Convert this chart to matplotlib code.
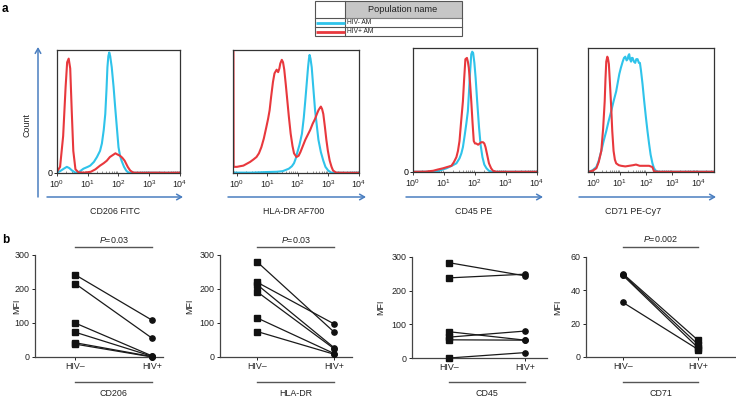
import numpy as np
import matplotlib
matplotlib.use('Agg')
import matplotlib.pyplot as plt
from matplotlib.patches import Rectangle
from matplotlib.ticker import LogLocator, NullFormatter

plt.rcParams['font.family'] = ['Liberation Sans', 'DejaVu Sans']
plt.rcParams['mathtext.fontset'] = 'custom'
plt.rcParams['mathtext.rm'] = 'Liberation Sans'
plt.rcParams['mathtext.it'] = 'Liberation Sans:italic'

# ---------------- data: flow histograms (log10 intensity, relative count) ----------------
cd206_neg_lx = [0.0, 0.1, 0.22, 0.32, 0.4, 0.49, 0.6, 0.7, 0.86, 1.0, 1.08, 1.2, 1.3, 1.4, 1.46, 1.52, 1.57,
                1.61, 1.64, 1.67, 1.7, 1.73, 1.78, 1.84, 1.89, 1.95, 2.0, 2.05, 2.1, 2.18, 2.25, 2.32, 2.6,
                3.0, 3.5, 4.0]
cd206_neg_y = [0.5, 1.5, 3.5, 5, 4, 2, 0.3, 0.5, 3.5, 5, 6, 9, 13, 18, 24, 35, 48,
               68, 86, 95, 98, 95, 86, 70, 54, 36, 21, 14, 10, 5, 2, 0.3, 0.2,
               0.3, 0.2, 0.2]
cd206_pos_lx = [0.0, 0.1, 0.2, 0.28, 0.33, 0.38, 0.43, 0.48, 0.53, 0.6, 0.7, 0.9, 1.1, 1.25, 1.4, 1.52,
                1.62, 1.72, 1.84, 1.9, 1.97, 2.05, 2.12, 2.2, 2.3, 2.38, 2.48, 2.8, 3.2, 3.6, 4.0]
cd206_pos_y = [1, 5, 30, 70, 90, 93, 85, 50, 18, 3, 0.5, 0.3, 1, 3, 6, 8,
               10, 13, 15, 16, 15, 14, 12.5, 10, 5, 2, 0.3, 0.2, 0.3, 0.2, 0.3]

hladr_neg_lx = [-0.12, 0.5, 1.0, 1.3, 1.5, 1.6, 1.7, 1.8, 1.87, 1.93, 1.97, 2.05, 2.13, 2.19, 2.24, 2.29,
                2.33, 2.36, 2.38, 2.41, 2.45, 2.5, 2.56, 2.62, 2.67, 2.75, 2.83, 2.9, 2.99, 3.09, 3.5, 4.0]
hladr_neg_y = [0.3, 0.3, 0.8, 1, 1.5, 2.5, 3.5, 5.5, 8, 12, 16, 23, 32, 45, 59, 74,
               86, 93, 96, 93, 86, 70, 51, 38, 27, 17, 10, 5, 2, 0.3, 0.2, 0.3]
hladr_pos_lx = [-0.115, -0.11, 0.0, 0.1, 0.21, 0.32, 0.43, 0.54, 0.64, 0.72, 0.8, 0.88, 0.96, 1.02, 1.07,
                1.12, 1.18, 1.23, 1.3, 1.35, 1.39, 1.42, 1.47, 1.51, 1.55, 1.6, 1.65, 1.7, 1.76, 1.82,
                1.87, 1.95, 2.02, 2.08, 2.16, 2.24, 2.32, 2.4, 2.48, 2.56, 2.62, 2.67, 2.72, 2.75, 2.79,
                2.83, 2.88, 2.93, 2.98, 3.04, 3.1, 3.15, 3.25, 3.6, 4.0]
hladr_pos_y = [99, 5, 5, 5.5, 6, 7.5, 9, 11, 13, 16, 21, 28, 37, 44, 51,
               62, 74, 81, 84, 82, 85, 89, 92, 90, 84, 72, 59, 46, 32, 22,
               16, 13, 14, 17, 22, 27, 31, 35, 40, 44, 48, 51, 53, 54, 52,
               48, 38, 27, 18, 10, 5, 2, 0.3, 0.2, 0.2]

cd45_neg_lx = [0.0, 0.5, 0.75, 0.9, 1.08, 1.25, 1.4, 1.5, 1.56, 1.61, 1.67, 1.72, 1.77, 1.8, 1.84, 1.88,
               1.91, 1.94, 1.98, 2.02, 2.07, 2.13, 2.18, 2.24, 2.3, 2.37, 2.45, 2.53, 3.2, 4.0]
cd45_neg_y = [0.2, 0.2, 0.3, 1.5, 3, 5, 7, 11, 15, 20, 30, 39, 49, 62, 80, 95,
              97, 96, 88, 76, 57, 36, 22, 12, 6, 3, 1, 0.2, 0.2, 0.2]
cd45_pos_lx = [0.0, 0.4, 0.65, 0.8, 0.97, 1.1, 1.24, 1.32, 1.4, 1.45, 1.5, 1.55, 1.61, 1.65, 1.69, 1.74,
               1.77, 1.8, 1.84, 1.88, 1.92, 1.96, 2.0, 2.04, 2.1, 2.15, 2.2, 2.26, 2.3, 2.34, 2.4, 2.45,
               2.52, 2.58, 2.69, 3.2, 4.0]
cd45_pos_y = [0.2, 0.3, 1, 2, 3, 4, 5, 8, 12, 17, 25, 40, 57, 75, 91, 92,
              89, 84, 72, 57, 40, 25, 23, 23, 22, 23, 24, 24, 23, 20, 13, 7,
              3, 1, 0.2, 0.2, 0.2]

cd71_neg_lx = [-0.2, -0.05, 0.09, 0.18, 0.28, 0.37, 0.47, 0.56, 0.66, 0.75, 0.85, 0.91, 0.97, 1.03, 1.1,
               1.15, 1.2, 1.25, 1.29, 1.32, 1.35, 1.38, 1.42, 1.45, 1.48, 1.53, 1.58, 1.62, 1.67, 1.72,
               1.76, 1.8, 1.86, 1.92, 1.99, 2.05, 2.11, 2.17, 2.24, 2.3, 2.37, 2.49, 3.5, 4.6]
cd71_neg_y = [0.2, 1.5, 4, 9, 17, 25, 33, 41, 49, 57, 65, 72, 79, 84, 89,
              92, 93, 90, 91, 94, 95, 91, 89, 92, 92, 89, 88, 91, 91, 88,
              88, 82, 71, 58, 44, 33, 23, 14, 7, 3, 1, 0.2, 0.2, 0.2]
cd71_pos_lx = [-0.2, -0.05, 0.09, 0.18, 0.28, 0.35, 0.41, 0.44, 0.47, 0.51, 0.54, 0.57, 0.61, 0.66, 0.7,
               0.75, 0.8, 0.85, 0.95, 1.04, 1.2, 1.35, 1.5, 1.61, 1.75, 1.86, 2.0, 2.11, 2.24, 2.3, 2.5,
               3.5, 4.6]
cd71_pos_y = [0.2, 1, 3, 8, 17, 35, 57, 75, 89, 93, 91, 87, 72, 52, 33,
              17, 10, 7, 5.5, 5, 4.5, 5, 5.5, 6, 5, 5, 5, 5, 4, 0.5, 0.2,
              0.2, 0.2]

hist_names = ['CD206 FITC', 'HLA-DR AF700', 'CD45 PE', 'CD71 PE-Cy7']

# ---------------- data: paired MFI ----------------
groups = ['HIV–', 'HIV+']
cd206_neg = [242, 216, 100, 73, 42, 38]
cd206_pos = [108, 55, 3, 2, 1, 0]
hladr_neg = [280, 220, 213, 192, 115, 75]
hladr_pos = [73, 97, 27, 24, 10, 8]
cd45_neg = [283, 238, 78, 62, 54, 0]
cd45_pos = [244, 249, 53, 80, 53, 16]
cd71_neg = [50, 49.5, 49, 32.8]
cd71_pos = [10, 7.5, 5.5, 4.5]
mfi_names = ['CD206', 'HLA-DR', 'CD45', 'CD71']
pvals = ['0.03', '0.03', None, '0.002']

legend_rows = ['HIV- AM', 'HIV+ AM']
legend_header = 'Population name'

# ---------------- styling ----------------
RED = '#e8383d'
BLUE = '#2fc3ea'
ARROW = '#4a7ec0'
FS = 6.4
W, H = 736, 401
fig = plt.figure(figsize=(W / 100, H / 100), dpi=100)


def rect(l, t, r, b):
    return [l / W, 1 - b / H, (r - l) / W, (b - t) / H]


ov = fig.add_axes([0, 0, 1, 1])
ov.set_xlim(0, W)
ov.set_ylim(H, 0)
ov.axis('off')

# ---------------- top row: histograms ----------------
hist_boxes = [(57, 50, 180, 173), (233, 50, 359, 173), (413, 48, 537, 172), (588, 48, 714, 172)]
hist_xlims = [(0, 4), (-0.13, 4), (0, 4), (-0.23, 4.6)]
hist_data = [(cd206_neg_lx, cd206_neg_y, cd206_pos_lx, cd206_pos_y),
             (hladr_neg_lx, hladr_neg_y, hladr_pos_lx, hladr_pos_y),
             (cd45_neg_lx, cd45_neg_y, cd45_pos_lx, cd45_pos_y),
             (cd71_neg_lx, cd71_neg_y, cd71_pos_lx, cd71_pos_y)]
zero_lab = [True, False, True, False]
arrows_x = [(47, 183), (228, 366), (406, 543), (579, 716)]
name_x = [115, 294, 474, 633]

for i in range(4):
    ax = fig.add_axes(rect(*hist_boxes[i]))
    nlx, ny, plx, py = hist_data[i]
    ax.plot(10 ** np.array(nlx), ny, color=BLUE, lw=1.5, solid_joinstyle='round')
    ax.plot(10 ** np.array(plx), py, color=RED, lw=1.5, solid_joinstyle='round')
    ax.set_xscale('log')
    ax.set_xlim(10 ** hist_xlims[i][0], 10 ** hist_xlims[i][1])
    ax.set_ylim(0, 100)
    ax.set_xticks([1, 10, 100, 1000, 10000])
    ax.xaxis.set_minor_locator(LogLocator(base=10, subs=np.arange(2, 10), numticks=20))
    ax.xaxis.set_minor_formatter(NullFormatter())
    ax.tick_params(axis='x', which='major', direction='out', length=2, width=0.6,
                   labelsize=FS, pad=1.8, colors='#222')
    ax.tick_params(axis='x', which='minor', direction='in', length=1.3, width=0.4, colors='#444')
    if zero_lab[i]:
        ax.set_yticks([0])
        ax.set_yticklabels(['0'])
        ax.tick_params(axis='y', direction='out', length=2, width=0.6, labelsize=FS, pad=1.5)
    else:
        ax.set_yticks([])
    for s in ax.spines.values():
        s.set_color('#333')
        s.set_linewidth(0.9)
    # blue axis arrow below each histogram
    ov.annotate('', xy=(arrows_x[i][1], 197), xytext=(arrows_x[i][0], 197),
                arrowprops=dict(arrowstyle='->,head_length=0.35,head_width=0.2', color=ARROW,
                                lw=1.1, shrinkA=0, shrinkB=0))
    ov.text(name_x[i], 211, hist_names[i], ha='center', va='center', fontsize=FS, color='#222')

# vertical Count arrow
ov.annotate('', xy=(38, 47), xytext=(38, 197),
            arrowprops=dict(arrowstyle='->,head_length=0.35,head_width=0.2', color=ARROW,
                            lw=1.1, shrinkA=0, shrinkB=0))
ov.text(27, 125, 'Count', rotation=90, ha='center', va='center', fontsize=FS, color='#222')

# legend table
ov.add_patch(Rectangle((345, 1), 117, 17, facecolor='#c6c6c6', edgecolor='none'))
ov.add_patch(Rectangle((315, 1), 147, 35, facecolor='none', edgecolor='#555', lw=0.8))
ov.plot([345, 345], [1, 36], color='#555', lw=0.8)
ov.plot([315, 462], [18, 18], color='#555', lw=0.8)
ov.plot([315, 462], [27, 27], color='#555', lw=0.8)
ov.plot([346, 461], [17.5, 17.5], color='#888', lw=0.6)
ov.text(403, 9.5, legend_header, ha='center', va='center', fontsize=6.6, color='#222')
ov.plot([316, 345], [22.5, 22.5], color=BLUE, lw=2.0, solid_capstyle='butt')
ov.plot([316, 345], [31.5, 31.5], color=RED, lw=2.0, solid_capstyle='butt')
ov.text(347, 22.7, legend_rows[0], ha='left', va='center', fontsize=4.8, color='#222')
ov.text(347, 31.7, legend_rows[1], ha='left', va='center', fontsize=4.8, color='#222')

# panel letters
ov.text(2, 9, 'a', fontsize=8.5, fontweight='bold', ha='left', va='center')
ov.text(2, 240, 'b', fontsize=8.5, fontweight='bold', ha='left', va='center')

# ---------------- bottom row: paired MFI ----------------
mfi_boxes = [(35, 255, 163, 357), (220, 255, 352, 357), (412, 257, 547, 358), (586, 257, 735, 357)]
mfi_xlims = [(-0.52, 1.14), (-0.48, 1.23), (-0.49, 1.29), (-0.49, 1.49)]
mfi_ylims = [(0, 300), (0, 300), (0, 300), (0, 60)]
mfi_yticks = [[0, 100, 200, 300]] * 3 + [[0, 20, 40, 60]]
mfi_data = [(cd206_neg, cd206_pos), (hladr_neg, hladr_pos), (cd45_neg, cd45_pos), (cd71_neg, cd71_pos)]
mfi_markers = [('s', 'o'), ('s', 'o'), ('s', 'o'), ('o', 's')]
mfi_label_x = [17, 190, 381, 558]

for i in range(4):
    ax = fig.add_axes(rect(*mfi_boxes[i]))
    neg, pos = mfi_data[i]
    for a, b in zip(neg, pos):
        ax.plot([0, 1], [a, b], color='#1a1a1a', lw=0.9, clip_on=False, zorder=2)
    ax.plot(np.zeros(len(neg)), neg, ls='none', marker=mfi_markers[i][0], ms=3.8,
            color='#111', clip_on=False, zorder=3)
    ax.plot(np.ones(len(pos)), pos, ls='none', marker=mfi_markers[i][1], ms=3.8,
            color='#111', clip_on=False, zorder=3)
    ax.set_xlim(*mfi_xlims[i])
    ax.set_ylim(*mfi_ylims[i])
    ax.set_yticks(mfi_yticks[i])
    ax.set_xticks([0, 1])
    ax.set_xticklabels(groups)
    ax.tick_params(axis='both', direction='out', length=2, width=0.7, labelsize=FS, pad=1.8,
                   colors='#222')
    for s in ['top', 'right']:
        ax.spines[s].set_visible(False)
    for s in ['left', 'bottom']:
        ax.spines[s].set_color('#444')
        ax.spines[s].set_linewidth(0.9)
    top_px, bot_px = mfi_boxes[i][1], mfi_boxes[i][3]
    hpx = bot_px - top_px
    tr = ax.get_xaxis_transform()
    # group label bracket below
    ax.plot([0, 1], [(bot_px - 382) / hpx] * 2, transform=tr, color='#555', lw=1.0, clip_on=False)
    ax.text(0.5, (bot_px - 393.5) / hpx, mfi_names[i], transform=tr, ha='center', va='center',
            fontsize=FS, color='#222')
    if pvals[i] is not None:
        ax.plot([0, 1], [(bot_px - 246.5) / hpx] * 2, transform=tr, color='#555', lw=1.0, clip_on=False)
        ax.text(0.5, (bot_px - 239.5) / hpx, r'$\it{P}$=' + pvals[i], transform=tr, ha='center',
                va='center', fontsize=FS, color='#222')
    ov.text(mfi_label_x[i], (top_px + bot_px) / 2, 'MFI', rotation=90, ha='center', va='center',
            fontsize=FS, color='#222')

fig.savefig('out.png', dpi=100)
